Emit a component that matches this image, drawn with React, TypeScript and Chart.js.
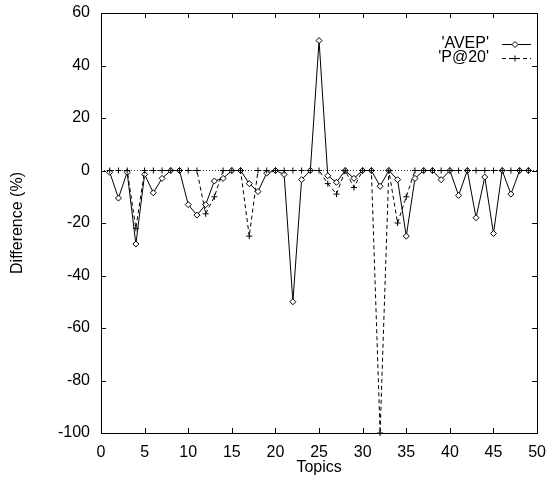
import React, { useEffect, useRef } from "react";
import { Chart, registerables } from "chart.js";

Chart.register(...registerables);

const topics = [
  1, 2, 3, 4, 5, 6, 7, 8, 9, 10, 11, 12, 13, 14, 15, 16, 17, 18, 19, 20, 21, 22, 23, 24, 25,
  26, 27, 28, 29, 30, 31, 32, 33, 34, 35, 36, 37, 38, 39, 40, 41, 42, 43, 44, 45, 46, 47, 48, 49,
];

const avep = [
  -0.7, -10.5, -0.7, -28, -1.5, -8.5, -3, 0, 0, -13, -17, -13, -4, -3, 0, 0, -5, -8, -1, 0, -1.5, -50, -3.5, 0, 49.5,
  -2, -4.5, 0, -3, 0, 0, -6, 0, -3.5, -25, -3, 0, 0, -3.5, 0, -9.5, 0, -18, -2.5, -24, 0, -9, 0, 0,
];

const p20 = [
  0, 0, 0, -22, 0, 0, 0, 0, 0, 0, 0, -16.5, -10, 0, 0, 0, -25, 0, 0, 0, 0, 0, 0, 0, 0,
  -5, -9, 0, -6.5, 0, 0, -100, 0, -20, -10, 0, 0, 0, 0, 0, 0, 0, 0, 0, 0, 0, 0, 0, 0,
];

const seriesLabels = ["'AVEP'", "'P@20'"];
const xTitle = "Topics";
const yTitle = "Difference (%)";
const xMin = 0, xMax = 50, xStep = 5;
const yMin = -100, yMax = 60, yStep = 20;

const FONT_FAMILY = '"Liberation Sans", Arial, Helvetica, sans-serif';
const TARGET_TOP = 13;

function drawDiamond(ctx: CanvasRenderingContext2D, x: number, y: number, r: number) {
  ctx.beginPath();
  ctx.moveTo(x - r, y);
  ctx.lineTo(x, y - r);
  ctx.lineTo(x + r, y);
  ctx.lineTo(x, y + r);
  ctx.closePath();
  ctx.fillStyle = "#fff";
  ctx.fill();
  ctx.stroke();
}

function drawCross(ctx: CanvasRenderingContext2D, x: number, y: number, r: number) {
  ctx.beginPath();
  ctx.moveTo(x - r, y);
  ctx.lineTo(x + r, y);
  ctx.moveTo(x, y - r);
  ctx.lineTo(x, y + r);
  ctx.stroke();
}

const framePlugin = {
  id: "gnuFrame",
  afterDraw(chart: any) {
    const { ctx, chartArea } = chart;
    const { left, right, top, bottom } = chartArea;
    const xs = chart.scales.x;
    const ys = chart.scales.y;
    ctx.save();
    ctx.strokeStyle = "#000";
    ctx.lineWidth = 1;
    ctx.setLineDash([]);
    ctx.strokeRect(Math.round(left) + 0.5, Math.round(top) + 0.5, Math.round(right - left), Math.round(bottom - top));
    const tl = 5;
    ctx.beginPath();
    xs.ticks.forEach((t: any) => {
      const px = Math.round(xs.getPixelForValue(t.value)) + 0.5;
      ctx.moveTo(px, bottom);
      ctx.lineTo(px, bottom - tl);
      ctx.moveTo(px, top);
      ctx.lineTo(px, top + tl);
    });
    ys.ticks.forEach((t: any) => {
      const py = Math.round(ys.getPixelForValue(t.value)) + 0.5;
      ctx.moveTo(left, py);
      ctx.lineTo(left + tl, py);
      ctx.moveTo(right, py);
      ctx.lineTo(right - tl, py);
    });
    ctx.stroke();

    // key (legend)
    ctx.font = "16px " + FONT_FAMILY;
    ctx.textAlign = "right";
    ctx.textBaseline = "middle";
    const rows = [
      { label: chart.data.datasets[1].label, dash: [], marker: "diamond" },
      { label: chart.data.datasets[0].label, dash: [4, 3], marker: "cross" },
    ];
    rows.forEach((row, i) => {
      const y = 44 + i * 14;
      ctx.fillStyle = "#000";
      ctx.fillText(row.label, 489, y);
      ctx.beginPath();
      ctx.setLineDash(row.dash);
      ctx.moveTo(502, y + 0.5);
      ctx.lineTo(531, y + 0.5);
      ctx.stroke();
      ctx.setLineDash([]);
      if (row.marker === "diamond") drawDiamond(ctx, 515, y + 0.5, 3);
      else drawCross(ctx, 515, y + 0.5, 3);
    });
    ctx.restore();
  },
};

export default function App() {
  const ref = useRef<HTMLCanvasElement | null>(null);

  useEffect(() => {
    document.body.style.margin = "0";
    const canvas = ref.current;
    if (!canvas) return;
    const font = { family: FONT_FAMILY, size: 16 };
    const chart: any = new Chart(canvas, {
      type: "line",
      data: {
        datasets: [
          {
            label: seriesLabels[1],
            data: topics.map((t, i) => ({ x: t, y: p20[i] })),
            borderColor: "#000",
            borderWidth: 1,
            borderDash: [4, 3],
            pointStyle: "cross",
            pointRadius: 3,
            pointBorderColor: "#000",
            pointBorderWidth: 1,
            tension: 0,
            clip: false,
            order: 0,
          },
          {
            label: seriesLabels[0],
            data: topics.map((t, i) => ({ x: t, y: avep[i] })),
            borderColor: "#000",
            borderWidth: 1,
            pointStyle: "rectRot",
            pointRadius: 3,
            pointBackgroundColor: "#fff",
            pointBorderColor: "#000",
            pointBorderWidth: 1,
            tension: 0,
            clip: false,
            order: 1,
          },
          {
            label: "zero",
            data: [
              { x: xMin, y: 0 },
              { x: xMax, y: 0 },
            ],
            borderColor: "#333",
            borderWidth: 1,
            borderDash: [1, 2],
            pointRadius: 0,
            tension: 0,
            order: 2,
          },
        ],
      },
      options: {
        responsive: false,
        animation: false,
        events: [],
        layout: { padding: { top: TARGET_TOP, right: 11, left: 0, bottom: 0 } },
        plugins: { legend: { display: false }, tooltip: { enabled: false } },
        scales: {
          x: {
            type: "linear",
            min: xMin,
            max: xMax,
            ticks: { stepSize: xStep, font, color: "#000", padding: 10, maxRotation: 0 },
            grid: { display: false, drawTicks: false },
            border: { display: false },
            title: { display: true, text: xTitle, font, color: "#000", padding: { top: 0, bottom: 0 } },
            afterFit(scale: any) {
              scale.height = 44;
            },
          },
          y: {
            type: "linear",
            min: yMin,
            max: yMax,
            ticks: { stepSize: yStep, font, color: "#000", padding: 11 },
            grid: { display: false, drawTicks: false },
            border: { display: false },
            title: { display: true, text: yTitle, font, color: "#000", padding: { top: 8, bottom: 0 } },
            afterFit(scale: any) {
              scale.width = 101;
              scale.paddingTop = 0;
              scale.paddingBottom = 0;
            },
          },
        },
      },
      plugins: [framePlugin],
    });
    const diff = chart.chartArea.top - TARGET_TOP;
    if (Math.abs(diff) > 0.5) {
      chart.options.layout.padding.top = Math.max(0, TARGET_TOP - diff);
      chart.update();
    }
    return () => chart.destroy();
  }, []);

  return <canvas ref={ref} width={556} height={477} style={{ display: "block" }} />;
}
